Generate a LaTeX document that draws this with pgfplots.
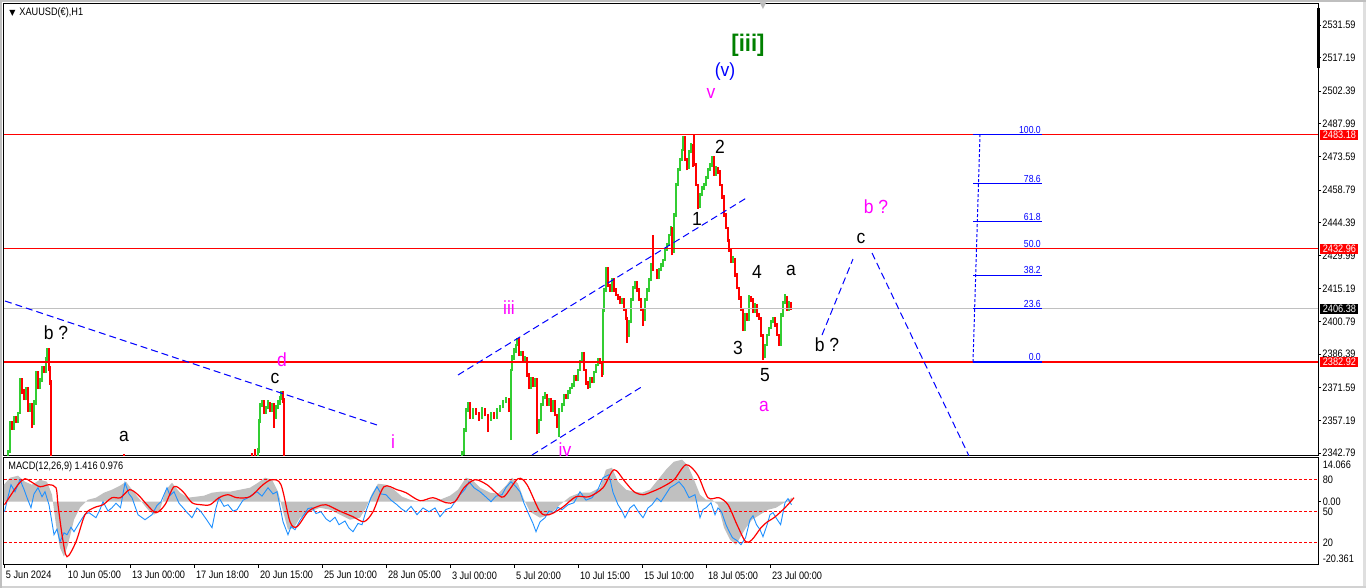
\documentclass[border=0pt]{standalone}
\usepackage{pgfplots}
\pgfplotsset{compat=1.18}
\usepackage{fontspec}
\setmainfont{Liberation Sans}
\newfontfamily\tickfont[FakeStretch=0.85]{Liberation Sans}
\newfontfamily\wavefont[FakeStretch=0.92]{Liberation Sans}
\newfontfamily\dejavu{DejaVu Sans}
\newcommand\tf{\tickfont\fontsize{5.4pt}{6pt}\selectfont}
\newcommand\ff{\tickfont\fontsize{5.1pt}{6pt}\selectfont}
\newcommand\wf{\wavefont\fontsize{9.5pt}{11pt}\selectfont}
\definecolor{cgreen}{RGB}{50,205,50}
\definecolor{cred}{RGB}{255,0,0}
\definecolor{cmag}{RGB}{255,0,255}
\definecolor{cblue}{RGB}{0,0,255}
\definecolor{dodger}{RGB}{30,144,255}
\definecolor{silver}{RGB}{192,192,192}
\definecolor{dgreen}{RGB}{0,128,0}
\begin{document}
\begin{tikzpicture}[wl/.style={font=\wf, inner sep=0pt}]
\useasboundingbox (0,0) rectangle (683pt,294pt);
\fill[white] (0,0) rectangle (683pt,294pt);
\fill[gray!25] (681.5pt,0) rectangle (683pt,294pt);
\draw[gray!50, line width=0.8pt] (0,293.6pt) -- (683pt,293.6pt);
\draw[gray!35, line width=0.8pt] (0,0.4pt) -- (683pt,0.4pt);
\draw[gray!50, line width=0.8pt] (0.4pt,0) -- (0.4pt,294pt);
% ================= MAIN PRICE PANEL =================
\begin{axis}[
  name=main, at={(2pt,66pt)}, anchor=south west, scale only axis,
  width=657pt, height=226pt,
  xmin=4, xmax=1318, ymin=2341.47, ymax=2540.86,
  axis line style={black, line width=0.5pt},
  xtick=\empty,
  ytick={2342.79,2357.19,2371.59,2386.39,2400.79,2415.19,2429.99,2444.39,2458.79,2473.59,2487.99,2502.39,2517.19,2531.59},
  yticklabels={2342.79,2357.19,2371.59,2386.39,2400.79,2415.19,2429.99,2444.39,2458.79,2473.59,2487.99,2502.39,2517.19,2531.59},
  ytick pos=right, yticklabel pos=right, tick align=outside, major tick length=1.5pt,
  tick style={black, line width=0.4pt},
  yticklabel style={font=\tf, anchor=west, inner sep=0.5pt},
  clip mode=individual,
]
% green candles
\addplot[cgreen, line width=1.0pt, unbounded coords=jump] coordinates {
(8,2338)(8,2344)(8,nan)(10,2343)(10,2357)(10,nan)(14,2353)(14,2359)(14,nan)(18,2356)(18,2361)(18,nan)
(20,2360)(20,2376)(20,nan)(26,2366)(26,2372)(26,nan)(30,2361)(30,2365)(30,nan)(34,2355)(34,2366)(34,nan)
(36,2364)(36,2379)(36,nan)(40,2371)(40,2376)(40,nan)(42,2374)(42,2381)(42,nan)(46,2378)(46,2385)(46,nan)
(47,2383)(47,2389)(47,nan)
(258,2335)(258,2345)(258,nan)(259,2343)(259,2358)(259,nan)(260,2356)(260,2365)(260,nan)(262,2363)(262,2366)(262,nan)
(266,2360)(266,2363.5)(266,nan)(268,2362)(268,2366)(268,nan)(272,2361)(272,2365)(272,nan)(276,2358)(276,2364)(276,nan)
(278,2362)(278,2366)(278,nan)(280,2364)(280,2368)(280,nan)(281,2366)(281,2370)(281,nan)
(462,2335)(462,2343.5)(462,nan)(464,2342)(464,2354)(464,nan)(466,2352)(466,2362.5)(466,nan)(468,2361)(468,2365.5)(468,nan)
(473,2358)(473,2362.5)(473,nan)(482,2358)(482,2363)(482,nan)(491,2357)(491,2361)(491,nan)(497,2358)(497,2362.5)(497,nan)
(500,2361)(500,2364)(500,nan)(503,2362.5)(503,2366)(503,nan)(506,2365)(506,2367.5)(506,nan)(511,2348.5)(511,2380)(511,nan)
(512,2379)(512,2386)(512,nan)(514,2384)(514,2389)(514,nan)(516,2387)(516,2391)(516,nan)(517,2390)(517,2393.5)(517,nan)
(521,2385.5)(521,2388)(521,nan)(525,2382.5)(525,2385.5)(525,nan)(531,2371)(531,2376.5)(531,nan)(535,2372)(535,2376)(535,nan)
(539,2351.5)(539,2358)(539,nan)(541,2357)(541,2365)(541,nan)(543,2363.5)(543,2368)(543,nan)(545,2366.5)(545,2369.5)(545,nan)
(549,2363.5)(549,2367)(549,nan)(553,2361)(553,2366)(553,nan)(559,2350)(559,2362.5)(559,nan)(562,2361)(562,2365)(562,nan)
(564,2363.5)(564,2369)(564,nan)(568,2366.5)(568,2370.5)(568,nan)(570,2369)(570,2372)(570,nan)(572,2371)(572,2373.5)(572,nan)
(574,2372)(574,2377)(574,nan)(578,2374.5)(578,2380)(578,nan)(580,2379)(580,2384)(580,nan)(582,2382.5)(582,2387.5)(582,nan)
(590,2371.5)(590,2376.5)(590,nan)(594,2373.5)(594,2379)(594,nan)(596,2378)(596,2382)(596,nan)(598,2381)(598,2384.5)(598,nan)
(603,2377)(603,2406.5)(603,nan)(604,2405)(604,2415.5)(604,nan)(606,2414)(606,2425)(606,nan)(612,2414)(612,2420)(612,nan)
(622,2408.5)(622,2411)(622,nan)(629,2394)(629,2401.5)(629,nan)(631,2400)(631,2411)(631,nan)(633,2410)(633,2416.5)(633,nan)
(635,2415)(635,2418.5)(635,nan)(645,2401)(645,2411)(645,nan)(647,2410)(647,2415.5)(647,nan)(649,2414)(649,2420)(649,nan)
(651,2418.5)(651,2426.5)(651,nan)(659,2419.5)(659,2424.5)(659,nan)(661,2423)(661,2426.5)(661,nan)(663,2425)(663,2428.5)(663,nan)
(665,2427.5)(665,2433)(665,nan)(667,2432)(667,2435.5)(667,nan)(669,2434)(669,2439.5)(669,nan)(671,2438.5)(671,2443)(671,nan)
(674,2431)(674,2448.5)(674,nan)(676,2447)(676,2462)(676,nan)(678,2460.5)(678,2468.5)(678,nan)(680,2467)(680,2473)(680,nan)
(682,2471.5)(682,2477)(682,nan)(683,2476)(683,2482.5)(683,nan)(689,2468)(689,2476.5)(689,nan)(691,2475)(691,2479.5)(691,nan)
(700,2451)(700,2457.5)(700,nan)(702,2456)(702,2460.5)(702,nan)(704,2459)(704,2462)(704,nan)(706,2460.5)(706,2465)(706,nan)
(708,2463.5)(708,2468.5)(708,nan)(710,2467)(710,2470.5)(710,nan)(712,2469)(712,2474)(712,nan)(716,2465)(716,2469.5)(716,nan)
(733,2426.5)(733,2429.5)(733,nan)(745,2396.5)(745,2404.5)(745,nan)(749,2401)(749,2412.5)(749,nan)(755,2404.5)(755,2409)(755,nan)
(765,2384.5)(765,2391)(765,nan)(767,2390)(767,2395.5)(767,nan)(769,2394.5)(769,2398.5)(769,nan)(771,2397.5)(771,2401.5)(771,nan)
(773,2400)(773,2403)(773,nan)(781,2390)(781,2404.5)(781,nan)(783,2403)(783,2410)(783,nan)(785,2408.5)(785,2413)(785,nan)
(789,2405.5)(789,2410)(789,nan)
};
% red candles
\addplot[cred, line width=1.0pt, unbounded coords=jump] coordinates {
(12,2353)(12,2357)(12,nan)(16,2356)(16,2359)(16,nan)(22,2369)(22,2376)(22,nan)(24,2366)(24,2371)(24,nan)
(28,2361)(28,2372)(28,nan)(32,2354)(32,2365)(32,nan)(38,2371)(38,2379)(38,nan)(44,2378)(44,2381)(44,nan)
(49,2379)(49,2389)(49,nan)(50,2373)(50,2381)(50,nan)(51,2320)(51,2375)(51,nan)
(124,2330)(124,2342.3)(124,nan)(252,2330)(252,2343)(252,nan)(255,2330)(255,2344.5)(255,nan)
(264,2360)(264,2366)(264,nan)(270,2361)(270,2365.5)(270,nan)(274,2354)(274,2365)(274,nan)(283,2365)(283,2370)(283,nan)
(284,2320)(284,2367)(284,nan)
(470,2358)(470,2365.5)(470,nan)(476,2359.5)(476,2362.5)(476,nan)(479,2357)(479,2361)(479,nan)(485,2359)(485,2362.5)(485,nan)
(488,2352)(488,2360)(488,nan)(494,2358)(494,2361)(494,nan)(509,2361)(509,2367)(509,nan)(519,2385.5)(519,2393.5)(519,nan)
(523,2382.5)(523,2388)(523,nan)(527,2376.5)(527,2385)(527,nan)(529,2371)(529,2378)(529,nan)(533,2372)(533,2376.5)(533,nan)
(537,2351)(537,2376)(537,nan)(547,2363.5)(547,2369)(547,nan)(551,2361)(551,2367)(551,nan)(555,2359)(555,2366)(555,nan)
(557,2354)(557,2360)(557,nan)(566,2366.5)(566,2369)(566,nan)(576,2374.5)(576,2377)(576,nan)(584,2379)(584,2387.5)(584,nan)
(586,2373)(586,2380)(586,nan)(588,2371)(588,2374.5)(588,nan)(592,2373.5)(592,2376.5)(592,nan)(600,2382)(600,2384.5)(600,nan)
(602,2376.5)(602,2383.5)(602,nan)(608,2416)(608,2425)(608,nan)(610,2414)(610,2417.5)(610,nan)(614,2414)(614,2420)(614,nan)
(616,2412)(616,2415.5)(616,nan)(618,2410.5)(618,2413)(618,nan)(620,2408.5)(620,2412)(620,nan)(624,2405.5)(624,2411)(624,nan)
(626,2401.5)(626,2406.5)(626,nan)(627,2391.5)(627,2403)(627,nan)(637,2414)(637,2418.5)(637,nan)(639,2410)(639,2415.5)(639,nan)
(641,2405.5)(641,2411)(641,nan)(643,2399)(643,2406.5)(643,nan)(653,2423)(653,2439)(653,nan)(657,2419.5)(657,2424)(657,nan)
(672,2430)(672,2442.5)(672,nan)(685,2471.5)(685,2482.5)(685,nan)(687,2467.5)(687,2473)(687,nan)(693,2469)(693,2479)(693,nan)
(694,2469.5)(694,2483.5)(694,nan)(696,2460.5)(696,2470.5)(696,nan)(698,2450.5)(698,2461.5)(698,nan)(714,2465)(714,2474)(714,nan)
(718,2466)(718,2469)(718,nan)(720,2460.5)(720,2467.5)(720,nan)(722,2455)(722,2461.5)(722,nan)(724,2447)(724,2456.5)(724,nan)
(726,2441.5)(726,2448.5)(726,nan)(728,2436)(728,2442.5)(728,nan)(729,2431.5)(729,2437)(729,nan)(731,2426.5)(731,2433)(731,nan)
(735,2420.5)(735,2429)(735,nan)(737,2415)(737,2422)(737,nan)(739,2410.5)(739,2416)(739,nan)(741,2405.5)(741,2412)(741,nan)
(743,2396.5)(743,2406.5)(743,nan)(747,2401)(747,2404.5)(747,nan)(751,2409.5)(751,2412)(751,nan)(753,2404.5)(753,2411)(753,nan)
(757,2403)(757,2408.5)(757,nan)(759,2401.5)(759,2404.5)(759,nan)(761,2394)(761,2403)(761,nan)(763,2384)(763,2395.5)(763,nan)
(775,2398.5)(775,2403)(775,nan)(777,2394.5)(777,2400)(777,nan)(779,2390)(779,2395.5)(779,nan)(787,2405.5)(787,2412)(787,nan)
(791,2406)(791,2409.5)(791,nan)
};
% horizontal levels
\addplot[silver, line width=0.55pt] coordinates {(4,2406.38)(1318,2406.38)};
\addplot[cred, line width=0.55pt] coordinates {(4,2483.18)(1318,2483.18)};
\addplot[cred, line width=0.55pt] coordinates {(4,2432.96)(1318,2432.96)};
\addplot[cred, line width=0.55pt] coordinates {(4,2382.92)(1318,2382.92)};
% trend lines
\addplot[cblue, line width=0.5pt, dash pattern=on 3.5pt off 2pt] coordinates {(5,2409.84)(377,2355.14)};
\addplot[cblue, line width=0.5pt, dash pattern=on 3.5pt off 2pt] coordinates {(458,2377.20)(748,2455.71)};
\addplot[cblue, line width=0.5pt, dash pattern=on 3.5pt off 2pt] coordinates {(532,2341.91)(643,2372.34)};
\addplot[cblue, line width=0.5pt, dash pattern=on 3.5pt off 2pt] coordinates {(822,2394.84)(853,2428.36)};
\addplot[cblue, line width=0.5pt, dash pattern=on 3.5pt off 2pt] coordinates {(872,2431.01)(969,2341.47)};
% fibonacci
\addplot[cblue, line width=0.5pt, dash pattern=on 1.5pt off 1pt] coordinates {(973,2382.92)(980,2483.18)};
\addplot[cblue, line width=0.6pt] coordinates {(973,2483.18)(1042,2483.18)};
\addplot[cblue, line width=0.6pt] coordinates {(973,2461.72)(1042,2461.72)};
\addplot[cblue, line width=0.6pt] coordinates {(973,2444.88)(1042,2444.88)};
\addplot[cblue, line width=0.6pt] coordinates {(973,2421.22)(1042,2421.22)};
\addplot[cblue, line width=0.6pt] coordinates {(973,2406.58)(1042,2406.58)};
\addplot[cblue, line width=0.6pt] coordinates {(973,2382.92)(1042,2382.92)};
\node[font=\ff, text=cblue, anchor=south east, inner sep=0.4pt] at (axis cs:1042,2483.18) {100.0};
\node[font=\ff, text=cblue, anchor=south east, inner sep=0.4pt] at (axis cs:1042,2461.72) {78.6};
\node[font=\ff, text=cblue, anchor=south east, inner sep=0.4pt] at (axis cs:1042,2444.88) {61.8};
\node[font=\ff, text=cblue, anchor=south east, inner sep=0.4pt] at (axis cs:1042,2433.05) {50.0};
\node[font=\ff, text=cblue, anchor=south east, inner sep=0.4pt] at (axis cs:1042,2421.22) {38.2};
\node[font=\ff, text=cblue, anchor=south east, inner sep=0.4pt] at (axis cs:1042,2406.58) {23.6};
\node[font=\ff, text=cblue, anchor=south east, inner sep=0.4pt] at (axis cs:1042,2382.92) {0.0};
% title and markers
\node[anchor=west, inner sep=0pt, font=\dejavu\fontsize{4pt}{5pt}\selectfont] at (axis cs:9,2536.9) {▼};
\node[anchor=west, inner sep=0pt, font=\tf] at (axis cs:19,2536.9) {XAUUSD(€),H1};
\node[anchor=north, inner sep=0pt, text=gray!55, font=\dejavu\fontsize{4.5pt}{5pt}\selectfont] at (axis cs:763,2541.5) {▼};
\draw[black, line width=1.5pt] (axis cs:1318,2539.1) -- (axis cs:1318,2512.6);
% wave labels
\node[wl, text=black] at (axis cs:56,2395.72) {b ?};
\node[wl, text=black] at (axis cs:124,2350.29) {a};
\node[wl, text=cmag] at (axis cs:282,2383.81) {d};
\node[wl, text=black] at (axis cs:275,2375.87) {c};
\node[wl, text=cmag] at (axis cs:393,2347.64) {i};
\node[wl, text=cmag] at (axis cs:509,2406.75) {iii};
\node[wl, text=cmag] at (axis cs:565,2344.3) {iv};
\node[wl, text=cmag] at (axis cs:711,2501.59) {v};
\node[wl, text=cblue] at (axis cs:725,2510.85) {(v)};
\node[inner sep=0pt, text=dgreen, font=\wavefont\bfseries\fontsize{12pt}{14pt}\selectfont] at (axis cs:748,2522.76) {[iii]};
\node[wl, text=black] at (axis cs:720,2477.77) {2};
\node[wl, text=black] at (axis cs:697,2446.01) {1};
\node[wl, text=black] at (axis cs:757,2422.63) {4};
\node[wl, text=black] at (axis cs:791,2423.51) {a};
\node[wl, text=black] at (axis cs:738,2389.11) {3};
\node[wl, text=black] at (axis cs:765,2377.20) {5};
\node[wl, text=cmag] at (axis cs:764,2363.52) {a};
\node[wl, text=black] at (axis cs:827,2390.43) {b ?};
\node[wl, text=black] at (axis cs:861,2437.63) {c};
\node[wl, text=cmag] at (axis cs:876,2451.30) {b ?};
\coordinate (L1) at (axis cs:1318,2483.18);
\coordinate (L2) at (axis cs:1318,2432.96);
\coordinate (L3) at (axis cs:1318,2382.92);
\coordinate (L4) at (axis cs:1318,2406.38);
\end{axis}
% price boxes
\foreach \c/\col/\tx in {L1/cred/2483.18, L2/cred/2432.96, L3/cred/2382.92, L4/black/2406.38}{
  \node[fill=\col, text=white, anchor=west, inner xsep=1.2pt, inner ysep=0pt, minimum height=5pt, font=\tf] at ([xshift=1pt]\c) {\tx};
}
% ================= MACD PANEL =================
\begin{axis}[
  name=macd, at={(2pt,11.5pt)}, anchor=south west, scale only axis,
  width=657pt, height=53.5pt,
  xmin=4, xmax=1318, ymin=-20.361, ymax=14.066,
  axis line style={black, line width=0.5pt},
  ytick=\empty,
  xtick={4,66,130,194,258,322,386,450,514,578,642,706,770},
  xticklabels={5 Jun 2024,10 Jun 05:00,13 Jun 00:00,17 Jun 18:00,20 Jun 15:00,25 Jun 10:00,28 Jun 05:00,3 Jul 00:00,5 Jul 20:00,10 Jul 15:00,15 Jul 10:00,18 Jul 05:00,23 Jul 00:00},
  xtick pos=bottom, tick align=outside, major tick length=1.5pt,
  tick style={black, line width=0.4pt},
  xticklabel style={font=\tf, anchor=north west, inner sep=0pt, xshift=0.8pt, yshift=-1.5pt},
  clip mode=individual,
]
\addplot[fill=silver, draw=none] coordinates {
(4,0)(4,5.47)(10,7.72)(18,8.36)(25,6.43)(32,5.47)(40,7.08)(47,6.43)(52,2.25)(56,-7.40)(60,-14.80)(64,-17.69)(68,-13.83)
(74,-5.79)(80,-1.93)(88,0.64)(96,1.29)(104,2.90)(112,3.86)(120,5.15)(126,6.43)(132,3.86)(140,0.64)(148,-2.57)(154,-4.18)
(160,-2.57)(166,3.86)(172,6.11)(180,2.90)(188,1.29)(196,1.61)(204,1.93)(212,2.90)(220,3.22)(230,3.22)(240,3.86)(250,4.50)
(258,6.11)(265,7.72)(272,7.08)(278,3.22)(284,-4.18)(288,-9.01)(294,-8.36)(300,-5.15)(310,-3.22)(320,-1.93)(330,-2.57)
(340,-4.18)(350,-5.79)(360,-5.15)(366,-1.93)(372,2.57)(378,5.79)(386,5.47)(394,3.86)(402,1.61)(410,0.64)(420,0)(430,0.64)
(440,0.64)(450,1.93)(458,3.86)(466,7.72)(472,7.08)(480,4.50)(490,2.90)(498,2.57)(506,5.15)(512,7.72)(518,5.79)(524,0.64)
(530,-3.22)(540,-5.15)(550,-4.18)(560,-0.97)(570,1.61)(580,2.90)(590,2.90)(600,4.50)(606,10.29)(612,10.94)(618,6.43)
(626,3.86)(634,3.22)(642,2.90)(650,3.86)(658,7.08)(666,10.29)(674,12.87)(682,13.51)(688,11.58)(694,7.08)(700,2.25)
(706,0.64)(712,0.64)(718,-0.97)(724,-8.36)(730,-12.22)(736,-13.83)(740,-11.58)(746,-8.36)(752,-5.79)(760,-4.18)
(768,-2.57)(776,-1.93)(784,-0.32)(792,1.29)(792,0)
} \closedcycle;
\addplot[cred, line width=0.5pt, dash pattern=on 1.5pt off 1pt] coordinates {(4,7.08)(1318,7.08)};
\addplot[cred, line width=0.5pt, dash pattern=on 1.5pt off 1pt] coordinates {(4,-3.22)(1318,-3.22)};
\addplot[cred, line width=0.5pt, dash pattern=on 1.5pt off 1pt] coordinates {(4,-13.19)(1318,-13.19)};
\addplot[dodger, line width=0.45pt] coordinates {
(4.5,-3.22)(8,1.5)(11,5.47)(15,3.2)(20,7.08)(24,4.0)(27,1.29)(31,-1.93)(34,2.5)(38,4.50)(42,1.6)(45,3.22)(49,-0.97)
(54,-10.62)(57,-8.8)(60,-12.87)(64,-10.0)(67,-10.62)(71,-8.2)(74,-9.65)(80,-6.43)(85,-4.0)(89,-3.54)(96,-5.15)(100,-2.5)
(103,0)(108,-3.0)(112,-1.93)(116,-0.5)(120.5,-1.93)(125,6.11)(129,2.5)(132,1.29)(138,-4.18)(145,-5.79)(152,-4.18)(157,-1.2)
(161,0)(167,4.50)(170,2.0)(174,3.22)(179,-0.5)(183,-1.93)(188,-3.8)(192,-5.15)(197,-2.0)(201,-3.22)(206,-5.5)(212,-8.36)
(216,-2.0)(219,1.29)(224,-1.5)(228,-0.97)(233,-3.0)(237,-2.57)(243,0.5)(248,1.29)(252,2.2)(257,3.22)(262,1.8)(268,4.50)
(273,2.5)(277,3.22)(283,-6.43)(288,-10.62)(291,-8.0)(295,-9.01)(300,-6.0)(304,-4.18)(308,-2.2)(312,-1.93)(316,-3.8)
(321,-3.22)(326,-5.5)(330,-6.43)(335,-5.0)(339,-7.40)(345,-6.2)(349,-8.5)(353,-9.65)(358,-7.0)(362,-7.40)(366,-3.0)
(371,1.29)(377,4.83)(381,2.5)(386,2.25)(391,0.5)(397,-0.97)(401,-2.2)(406,-3.22)(411,-1.5)(417,-4.18)(423,-2.0)
(429,-3.22)(435,-2.0)(440,-4.83)(446,-2.5)(451,-1.93)(456,0.5)(460,2.25)(465,4.0)(469,6.43)(474,4.5)(480,3.22)(486,1.5)
(491,0)(496,1.8)(502,2.25)(506,4.6)(511,6.43)(516,4.8)(520,3.22)(524,-0.5)(529,-4.18)(533,-7.0)(536,-9.65)(540,-6.5)
(545,-5.15)(549,-3.0)(554,-3.54)(558,-1.8)(562,-2.57)(568,-1.0)(574,-0.32)(580,3.22)(586,0.5)(592,1.29)(598,4.0)
(603,7.72)(609,8.69)(613,3.0)(618,-0.97)(622,-3.0)(625,-5.15)(630,-2.0)(634,-0.97)(639,-3.5)(643,-5.15)(648,-2.0)
(652,-0.97)(657,1.2)(661,0)(666,2.5)(670,4.50)(675,5.5)(679,6.43)(684,4.50)(689,1.29)(695,2.25)(700,-5.15)(703,-2.5)
(706,-1.93)(711,-0.32)(715,-4.18)(718,-2.0)(721.5,-3.22)(726,-7.40)(729,-9.5)(732.5,-11.58)(737,-12.5)(741,-13.83)
(745.6,-11.58)(750,-5.79)(753,-4.5)(756.5,-7.40)(760,-9.0)(763,-11.26)(767,-7.5)(770,-4.18)(773,-3.5)(776,-5.15)
(780.6,-7.40)(785,-0.32)(788,1.0)(791.5,-0.97)
};
\addplot[cred, line width=0.6pt, smooth] coordinates {
(4.5,-0.97)(18,5.47)(25,7.40)(31,6.43)(40,4.83)(49,5.47)(56,4.50)(58,-0.97)(62.5,-11.58)(67,-17.69)(76,-12.87)
(85,-4.18)(94,-1.93)(103,-0.97)(112,1.29)(120.5,1.29)(129.5,3.86)(138,2.25)(147,-0.97)(156,-3.54)(165,-0.97)(174,4.83)
(183,3.22)(192,-0.32)(201,-0.97)(210,-0.97)(219,1.29)(228,2.25)(237,1.29)(250,1.61)(263,5.47)(272,7.08)(281,5.47)
(290,-6.43)(297,-8.04)(308,-3.22)(317,-1.61)(326,-0.97)(339,-2.90)(353,-4.83)(364,-6.43)(373,-3.22)(384,4.83)(397,3.86)
(406,2.90)(420,0.32)(433,1.29)(446,-0.32)(455,0)(464,4.50)(475,7.08)(487,5.47)(496,2.90)(504,1.61)(518,7.40)(527,5.47)
(540,-3.22)(549,-4.18)(562,-1.93)(576,1.61)(589,1.61)(603,4.50)(614,10.29)(625,6.43)(634,3.22)(643,2.25)(652,3.22)
(661,4.50)(674,7.08)(686,11.90)(697.5,8.69)(708,1.29)(719,1.29)(728,-0.97)(737,-7.40)(745.6,-12.87)(752,-12.22)
(761,-8.36)(767.5,-6.43)(774,-5.15)(785,-1.93)(794,1.29)
};
\node[anchor=west, inner sep=0pt, font=\tf] at (axis cs:8,11.26) {MACD(12,26,9) 1.416 0.976};
\coordinate (M1) at (axis cs:1318,11.9);
\coordinate (M2) at (axis cs:1318,7.08);
\coordinate (M3) at (axis cs:1318,0);
\coordinate (M4) at (axis cs:1318,-3.22);
\coordinate (M5) at (axis cs:1318,-13.19);
\coordinate (M6) at (axis cs:1318,-18.34);
\end{axis}
\draw[black, line width=0.4pt] (M3) -- ++(1.5pt,0);
\foreach \c/\tx in {M1/14.066, M2/80, M3/0.00, M4/50, M5/20, M6/-20.361}{
  \node[anchor=west, inner sep=0pt, font=\tf] at ([xshift=2.2pt]\c) {\tx};
}
\end{tikzpicture}
\end{document}
